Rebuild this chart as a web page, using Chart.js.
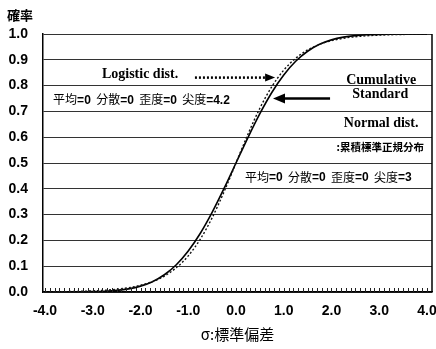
<!DOCTYPE html>
<html lang="ja">
<head>
<meta charset="UTF-8">
<title>累積標準正規分布</title>
<script src="https://cdn.jsdelivr.net/npm/chart.js@4.4.1/dist/chart.umd.min.js"></script>
<style>
html,body{margin:0;padding:0;background:#fff;}
</style>
</head>
<body>
<canvas id="cdfChart" width="436" height="349"></canvas>
<script>
// sigma values and the two cumulative curves
var sigma = [-4.0,-3.75,-3.5,-3.25,-3.0,-2.75,-2.5,-2.25,-2.0,-1.75,-1.5,-1.25,-1.0,-0.75,-0.5,-0.25,
             0.0,0.25,0.5,0.75,1.0,1.25,1.5,1.75,2.0,2.25,2.5,2.75,3.0,3.25,3.5,3.75,4.0];
var normalCdf = [0.0000,0.0001,0.0002,0.0006,0.0013,0.0030,0.0062,0.0122,0.0228,0.0401,0.0668,0.1056,0.1587,0.2266,0.3085,0.4013,
                 0.5000,0.5987,0.6915,0.7734,0.8413,0.8944,0.9332,0.9599,0.9772,0.9878,0.9938,0.9970,0.9987,0.9994,0.9998,0.9999,1.0000];
var logisticCdf = [0.0007,0.0011,0.0017,0.0027,0.0043,0.0068,0.0106,0.0166,0.0259,0.0401,0.0618,0.0939,0.1401,0.2042,0.2876,0.3885,
                   0.5000,0.6115,0.7124,0.7958,0.8599,0.9061,0.9382,0.9599,0.9741,0.9834,0.9894,0.9932,0.9957,0.9973,0.9983,0.9989,0.9993];
var xTicks = [-4,-3,-2,-1,0,1,2,3,4];
var yTicks = [0,0.1,0.2,0.3,0.4,0.5,0.6,0.7,0.8,0.9,1.0];
var statNames = ['平均','分散','歪度','尖度'];
var logisticStats = ['0','0','0','4.2'];
var normalStats = ['0','0','0','3'];

var narrow = "'Liberation Sans Narrow','Arial Narrow','Liberation Sans',sans-serif";
var cjk = "'Noto Sans CJK JP','Noto Sans CJK SC',sans-serif";
var serif = "'Liberation Serif','DejaVu Serif',serif";

function toPoints(ys) {
  return sigma.map(function(s, i) { return {x: s, y: ys[i]}; });
}

function arrow(ctx, x1, y, x2, width, dash, head, headW) {
  var dir = x2 > x1 ? 1 : -1;
  ctx.save();
  ctx.strokeStyle = '#000';
  ctx.fillStyle = '#000';
  ctx.lineWidth = width;
  ctx.setLineDash(dash);
  ctx.beginPath();
  ctx.moveTo(x1, y);
  ctx.lineTo(x2 - dir * head, y);
  ctx.stroke();
  ctx.setLineDash([]);
  ctx.beginPath();
  ctx.moveTo(x2, y);
  ctx.lineTo(x2 - dir * head, y - headW / 2);
  ctx.lineTo(x2 - dir * head, y + headW / 2);
  ctx.closePath();
  ctx.fill();
  ctx.restore();
}

// 平均=0 分散=0 ... : CJK regular, "=value" bold
function statLine(ctx, x, y, vals) {
  ctx.save();
  ctx.textBaseline = 'middle';
  ctx.textAlign = 'left';
  ctx.fillStyle = '#000';
  for (var i = 0; i < statNames.length; i++) {
    ctx.font = '12px ' + cjk;
    ctx.fillText(statNames[i], x, y);
    x += ctx.measureText(statNames[i]).width;
    ctx.font = 'bold 12px ' + "'Liberation Sans',sans-serif";
    var t = '=' + vals[i] + (i < statNames.length - 1 ? ' ' : '');
    ctx.fillText(t, x, y + 0.5);
    x += ctx.measureText(t).width + 2;
  }
  ctx.restore();
}

var decorations = {
  id: 'decorations',
  afterDraw: function(chart) {
    var ctx = chart.ctx, a = chart.chartArea;
    var xs = chart.scales.x, ys = chart.scales.y;
    var px = function(v) { return xs.getPixelForValue(v); };
    var py = function(v) { return ys.getPixelForValue(v); };

    // frame right side
    ctx.save();
    ctx.strokeStyle = '#000';
    ctx.lineWidth = 1.5;
    ctx.beginPath();
    ctx.moveTo(a.right, a.top);
    ctx.lineTo(a.right, a.bottom);
    ctx.stroke();

    // minor ticks every 0.1 pointing up into the plot
    ctx.lineWidth = 1;
    ctx.strokeStyle = '#222';
    for (var k = -40; k <= 40; k++) {
      var x = Math.round(px(k / 10)) + 0.5;
      ctx.beginPath();
      ctx.moveTo(x, a.bottom);
      ctx.lineTo(x, a.bottom - 4);
      ctx.stroke();
    }
    ctx.restore();

    // y axis caption
    ctx.save();
    ctx.fillStyle = '#000';
    ctx.font = 'bold 13px ' + cjk;
    ctx.textBaseline = 'middle';
    ctx.textAlign = 'left';
    ctx.fillText('確率', 7, 15);

    // legend-like labels
    ctx.font = 'bold 14px ' + serif;
    ctx.textAlign = 'center';
    ctx.fillText('Logistic dist.', px(-2.01), py(0.845));
    ctx.fillText('Cumulative', px(3.04), py(0.82));
    ctx.fillText('Standard', px(3.02), py(0.766));
    ctx.fillText('Normal dist.', px(3.04), py(0.655));
    ctx.font = 'bold 10.5px ' + cjk;
    ctx.fillText(':累積標準正規分布', px(3.02), py(0.562));
    ctx.restore();

    statLine(ctx, px(-3.83), py(0.745), logisticStats);
    statLine(ctx, px(0.19), py(0.444), normalStats);

    arrow(ctx, px(-0.86), py(0.831), px(0.82), 2.5, [2, 2], 10, 8);
    arrow(ctx, px(1.97), py(0.75), px(0.775), 2.5, [], 12, 10);
  }
};

new Chart(document.getElementById('cdfChart'), {
  type: 'line',
  data: {
    datasets: [
      {
        label: 'Logistic dist.',
        data: toPoints(logisticCdf),
        borderColor: '#111',
        borderWidth: 1.4,
        borderDash: [2, 2],
        pointRadius: 0,
        cubicInterpolationMode: 'monotone',
        fill: false
      },
      {
        label: 'Normal dist.',
        data: toPoints(normalCdf),
        borderColor: '#000',
        borderWidth: 1.6,
        pointRadius: 0,
        cubicInterpolationMode: 'monotone',
        fill: false
      }
    ]
  },
  options: {
    responsive: false,
    animation: false,
    devicePixelRatio: 1,
    layout: {padding: {top: 34, right: 4, left: 0, bottom: 0}},
    plugins: {legend: {display: false}, tooltip: {enabled: false}},
    scales: {
      x: {
        type: 'linear',
        min: -4.042,
        max: 4.105,
        afterBuildTicks: function(s) { s.ticks = xTicks.map(function(v) { return {value: v}; }); },
        afterFit: function(s) { s.height = 57; s.paddingLeft = 0; s.paddingRight = 0; },
        grid: {display: false, drawTicks: false},
        border: {display: true, color: '#000', width: 1.5},
        ticks: {
          padding: 11,
          color: '#000',
          maxRotation: 0,
          font: {family: narrow, size: 14, weight: 'bold'},
          callback: function(v) { return Number(v).toFixed(1); }
        },
        title: {
          display: true,
          text: 'σ:標準偏差',
          color: '#000',
          font: {family: cjk, size: 15},
          padding: {top: 0, bottom: 6}
        }
      },
      y: {
        min: 0,
        max: 1,
        afterBuildTicks: function(s) { s.ticks = yTicks.map(function(v) { return {value: v}; }); },
        afterFit: function(s) { s.width = 43; },
        grid: {color: '#333', lineWidth: 1, drawTicks: false},
        border: {display: true, color: '#000', width: 1.5},
        ticks: {
          padding: 15,
          color: '#000',
          font: {family: narrow, size: 14, weight: 'bold'},
          callback: function(v) { return Number(v).toFixed(1); }
        }
      }
    }
  },
  plugins: [decorations]
});
</script>
</body>
</html>
